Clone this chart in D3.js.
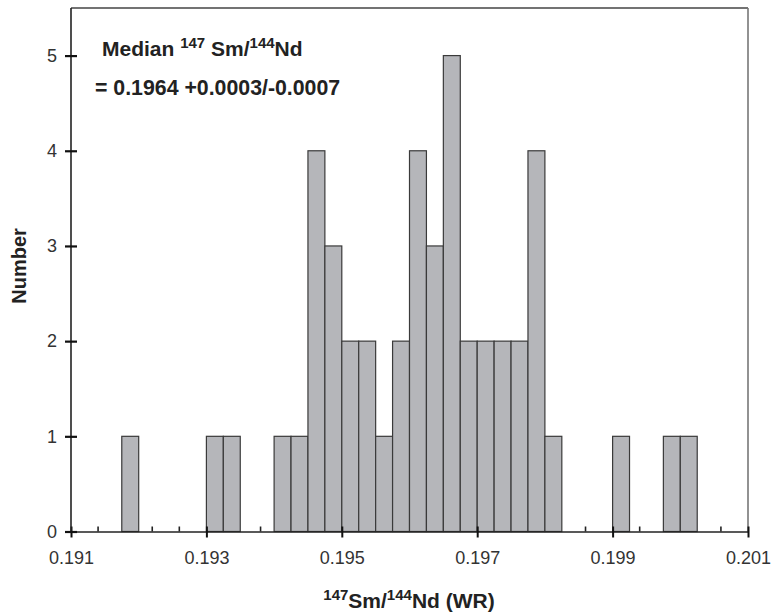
<!DOCTYPE html>
<html>
<head>
<meta charset="utf-8">
<script src="https://cdn.jsdelivr.net/npm/d3@7"></script>
<style>
  html, body { margin: 0; padding: 0; background: #fff; }
  svg { display: block; font-family: "Liberation Sans", Arial, Helvetica, sans-serif; }
</style>
</head>
<body>
<svg id="chart" width="771" height="613"></svg>
<script>
// ---- data ----
const binWidth = 0.00025;
const binStarts = [0.19175, 0.193, 0.19325, 0.194, 0.19425, 0.1945, 0.19475, 0.195, 0.19525, 0.1955,
                   0.19575, 0.196, 0.19625, 0.1965, 0.19675, 0.197, 0.19725, 0.1975, 0.19775, 0.198,
                   0.199, 0.19975, 0.2];
const counts    = [1, 1, 1, 1, 1, 4, 3, 2, 2, 1,
                   2, 4, 3, 5, 2, 2, 2, 2, 4, 1,
                   1, 1, 1];
const xTicks = [0.191, 0.193, 0.195, 0.197, 0.199, 0.201];
const xTickLabels = ["0.191", "0.193", "0.195", "0.197", "0.199", "0.201"];
const xMinorTicks = [0.1914, 0.1918, 0.1922, 0.1926, 0.1934, 0.1938, 0.1942, 0.1946, 0.1954, 0.1958,
                     0.1962, 0.1966, 0.1974, 0.1978, 0.1982, 0.1986, 0.1994, 0.1998, 0.2002, 0.2006];
const yTicks = [0, 1, 2, 3, 4, 5];

// ---- layout ----
const svg = d3.select("#chart");
const x = d3.scaleLinear().domain([0.191, 0.201]).range([71, 748]);
const y = d3.scaleLinear().domain([0, 5.5]).range([531.5, 8]);

// minor ticks (inside, under bars)
svg.append("g").selectAll("line").data(xMinorTicks).join("line")
  .attr("x1", d => x(d)).attr("x2", d => x(d))
  .attr("y1", y(0)).attr("y2", y(0) - 5)
  .attr("stroke", "#222").attr("stroke-width", 1.6);

// frame (top + right)
svg.append("line").attr("x1", x(0.191)).attr("x2", x(0.201)).attr("y1", y(5.5)).attr("y2", y(5.5))
  .attr("stroke", "#444").attr("stroke-width", 1.5);
svg.append("line").attr("x1", x(0.201)).attr("x2", x(0.201)).attr("y1", y(5.5)).attr("y2", y(0))
  .attr("stroke", "#777").attr("stroke-width", 1.6);

// bars
const bars = binStarts.map((s, i) => ({ s, c: counts[i] }));
svg.append("g").selectAll("rect").data(bars).join("rect")
  .attr("x", d => x(d.s))
  .attr("width", d => x(d.s + binWidth) - x(d.s))
  .attr("y", d => y(d.c))
  .attr("height", d => y(0) - y(d.c))
  .attr("fill", "#b5b6ba")
  .attr("stroke", "#3a3a3a")
  .attr("stroke-width", 1.2);

// x axis
const xAxis = d3.axisBottom(x).tickValues(xTicks).tickFormat((d, i) => xTickLabels[i])
  .tickSizeInner(6).tickSizeOuter(0).tickPadding(14);
const gx = svg.append("g").attr("transform", `translate(0,${y(0)})`).call(xAxis);
gx.select(".domain").attr("stroke", "#222").attr("stroke-width", 1.6);
gx.selectAll(".tick line").attr("y1", -5).attr("y2", 6).attr("stroke", "#111").attr("stroke-width", 2);
gx.selectAll(".tick text").attr("font-size", 18).attr("fill", "#333")
  .attr("font-family", "'Liberation Sans', Arial, sans-serif");

// y axis
const yAxis = d3.axisLeft(y).tickValues(yTicks).tickFormat(d3.format("d"))
  .tickSizeInner(6).tickSizeOuter(0).tickPadding(8);
const gy = svg.append("g").attr("transform", `translate(${x(0.191)},0)`).call(yAxis);
gy.select(".domain").attr("stroke", "#222").attr("stroke-width", 1.6)
  .attr("d", `M0,${y(0)}V${y(5.5)}`);
gy.selectAll(".tick line").attr("x1", -6).attr("x2", 6).attr("stroke", "#111").attr("stroke-width", 2.2);
gy.selectAll(".tick text").attr("font-size", 18).attr("fill", "#333")
  .attr("font-family", "'Liberation Sans', Arial, sans-serif");

// y axis title
svg.append("text")
  .attr("transform", `translate(26,266) rotate(-90)`)
  .attr("text-anchor", "middle")
  .attr("font-size", 20).attr("font-weight", "bold").attr("fill", "#222")
  .text("Number");

// x axis title
const xt = svg.append("text")
  .attr("x", 409).attr("y", 608)
  .attr("text-anchor", "middle")
  .attr("font-size", 21).attr("font-weight", "bold").attr("fill", "#222");
xt.append("tspan").attr("font-size", 15).attr("dy", -8).text("147");
xt.append("tspan").attr("dy", 8).text("Sm/");
xt.append("tspan").attr("font-size", 15).attr("dy", -8).text("144");
xt.append("tspan").attr("dy", 8).text("Nd (WR)");

// annotation
const a1 = svg.append("text")
  .attr("x", 102).attr("y", 56)
  .attr("font-size", 21).attr("font-weight", "bold").attr("fill", "#222");
a1.append("tspan").text("Median ");
a1.append("tspan").attr("font-size", 15).attr("dy", -8).text("147");
a1.append("tspan").attr("dy", 8).text(" Sm/");
a1.append("tspan").attr("font-size", 15).attr("dy", -8).text("144");
a1.append("tspan").attr("dy", 8).text("Nd");

svg.append("text")
  .attr("x", 95).attr("y", 95)
  .attr("font-size", 21.3).attr("font-weight", "bold").attr("fill", "#222")
  .text("= 0.1964 +0.0003/-0.0007");
</script>
</body>
</html>
